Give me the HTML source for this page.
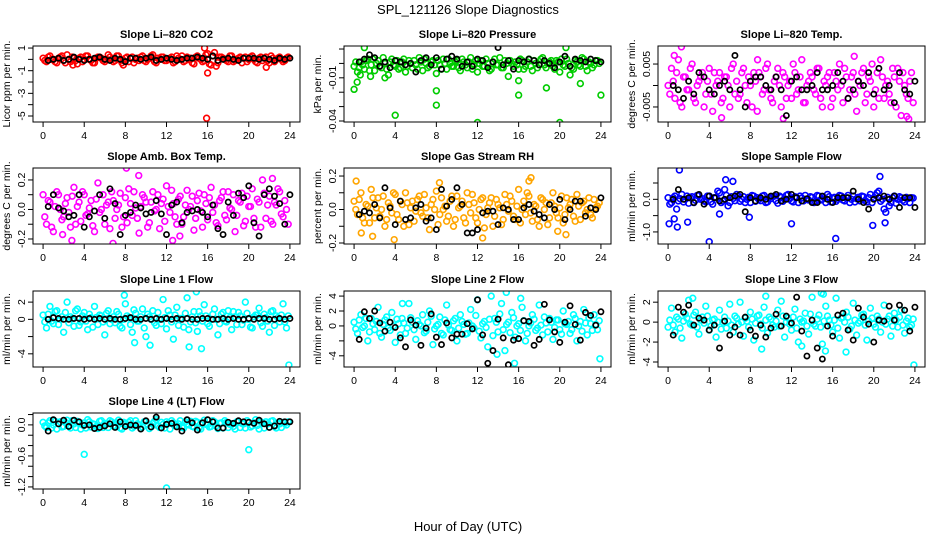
<!DOCTYPE html>
<html><head><meta charset="utf-8"><style>
body{margin:0;background:#fff;}
svg{display:block;font-family:"Liberation Sans",Arial,sans-serif;}
</style></head><body>
<svg id="chart" width="936" height="540" viewBox="0 0 936 540" xmlns="http://www.w3.org/2000/svg">
<rect x="0" y="0" width="936" height="540" fill="#fff"/>
<text x="468" y="14" text-anchor="middle" font-size="13">SPL_121126  Slope Diagnostics</text>
<text x="468" y="531" text-anchor="middle" font-size="13">Hour of Day (UTC)</text>
</svg>
<script>
// ---------- data arrays ----------
const xTicks=[0,4,8,12,16,20,24];
const co2Color=[0.1,-0.2,0.3,0,-0.3,0.2,-0.1,0.4,-0.2,0.1,-0.4,0.2,0,0.3,-0.1,-0.3,0.2,0.1,-0.2,0.4,0,-0.1,0.3,-0.3,0.1,-0.2,0.2,0,-0.1,0.3,-0.2,0.1,0.4,-0.3,0,0.2,-0.1,0.1,-0.3,0.3,0,-0.2,0.2,0.1,-0.4,0.3,0,-0.1,0.5,-0.5,0.6,-0.3,0.2,0,-0.2,0.3,-0.1,0.1,-0.3,0.2,0,0.3,-0.2,0.1,-0.1,0.2,-0.3,0.1,0,0.2,-0.2,0.1];
const co2Color2=[-0.1,0.2,0,-0.2,0.1,0.3,-0.3,0,0.2,-0.1,0.1,-0.2,0.3,0,-0.3,0.1,0.2,-0.1,0,0.2,-0.2,0.3,0,-0.1,0.2,0.1,-0.3,0.1,0.2,-0.1,0,0.3,-0.2,0.1,0.2,-0.1,0,0.2,-0.2,0.1,0.3,-0.1,0,-0.3,0.2,0.1,-0.2,0.4,-0.4,0.3,-0.6,0.2,0.1,-0.1,0.3,-0.2,0,0.2,0.1,-0.2,0.2,0,-0.3,0.2,0.1,-0.1,0.3,-0.2,0.1,0,-0.1,0.2];
const co2OutHours=[15.7,16.0,15.9,21.7,2.9,7.8];
const co2OutVals=[1.0,-1.2,-5.2,-0.7,-0.5,-0.5];
const co2Black=[-0.1,0,0.1,-0.1,0,0.2,0,-0.1,0,0.1,0.2,0,-0.1,0.1,0,-0.2,0.1,0.1,0,0.1,0.2,-0.1,0,0.1,0,-0.1,0,0.1,0.1,0.2,0.1,0,0.3,-0.1,0,0.1,0,-0.1,0.1,0.1,0.1,0,0.1,0,-0.1,0.1,0,0.1];

const presColor=[-0.002,-0.006,0.001,-0.004,0.003,-0.001,-0.005,0.002,-0.003,0,-0.008,0.003,-0.002,-0.004,0.001,-0.006,0.002,-0.003,-0.001,0.004,-0.005,0,-0.002,0.002,-0.007,-0.001,0.003,-0.004,0,-0.002,0.002,-0.005,0.001,-0.003,0.004,-0.001,-0.006,0.002,-0.002,0,-0.004,0.003,-0.001,-0.003,0.002,-0.009,0,0.001,-0.004,0.002,-0.002,0.003,-0.005,0,-0.001,0.004,-0.003,0.001,-0.002,0.002,-0.006,-0.001,0.003,-0.008,-0.004,0.001,-0.002,0.003,-0.005,0,-0.001,0.002];
const presColor2=[0.001,-0.003,-0.001,0.002,-0.005,0.003,0,-0.002,0.004,-0.004,0.001,-0.001,0.002,-0.003,0.003,-0.002,0,0.002,-0.004,0.001,0.003,-0.003,0.001,-0.001,0.002,-0.004,0,0.003,-0.002,0.001,-0.003,0.003,-0.001,0.001,-0.004,0.002,0,-0.002,0.003,-0.005,0.001,-0.001,0.004,-0.003,0,0.002,-0.002,-0.001,0.003,-0.004,0.001,-0.002,0.002,-0.003,0.003,-0.001,0,0.002,-0.004,0.001,0.003,-0.002,0,-0.003,0.002,-0.001,0.004,-0.002,0.001,-0.003,0.002,0];
const presOutHours=[0,0.3,0.6,1,4,8,8,12,16,16,18.7,20,20.6,22,24,3,1.6];
const presOutVals=[-0.018,-0.013,-0.008,0.011,-0.036,-0.019,-0.029,-0.041,-0.012,-0.022,-0.017,-0.041,0.011,-0.014,-0.022,-0.01,-0.009];
const presBlack=[0.001,0.003,0.006,0.004,-0.002,0.001,-0.003,0.002,0.001,-0.001,0,-0.006,0.002,0.004,-0.001,0.004,-0.004,0.003,0.005,0.003,-0.002,0.001,-0.002,0.003,0.002,-0.003,0.001,0.011,-0.001,0.002,-0.004,0.002,0.001,0.003,0.002,-0.001,0.002,0,-0.003,0.001,0.005,-0.002,0.003,0.002,0.001,0.003,0.002,0.001];

const tempColor=[0,0.004,-0.003,0.006,-0.005,0.002,-0.001,0.005,-0.004,0.001,0.003,-0.002,0.004,-0.006,0,0.003,-0.003,0.002,-0.005,0.005,0.001,-0.002,0.004,-0.004,0,0.003,-0.006,0.002,-0.001,0.005,-0.003,0.001,0.004,-0.005,0.002,0,-0.003,0.003,-0.001,0.006,-0.004,0.001,0.002,-0.002,0.004,-0.005,0,0.003,-0.003,0.001,0.005,-0.004,0.002,-0.001,0.003,-0.006,0,0.004,-0.002,0.001,-0.005,0.003,0.006,-0.003,0.001,-0.004,0.002,0.004,-0.007,0,-0.003,0.003];
const tempColor2=[-0.002,0.001,0.003,-0.004,0.002,-0.001,0.004,-0.003,0,0.002,-0.005,0.001,-0.002,0.003,0.001,-0.004,0.002,0,0.004,-0.002,-0.003,0.003,0,0.002,-0.005,0.001,0.003,-0.002,0.004,-0.001,-0.004,0.002,0,0.003,-0.003,0.001,0.005,-0.002,0.002,-0.004,0,0.003,-0.001,0.004,-0.003,0.001,0.002,-0.005,0.003,-0.001,0,0.004,-0.003,0.002,-0.002,0.001,0.003,-0.004,0.002,0.005,-0.001,-0.003,0.002,0,-0.002,0.004,-0.005,0.001,0.003,-0.002,0.001,-0.004];
const tempOutHours=[1.3,0.6,5.2,11.2,23.2,23.4,8.7,18.1];
const tempOutVals=[0.009,0.007,-0.0075,-0.0077,-0.0072,-0.0078,0.006,0.0068];
const tempBlack=[0,-0.001,-0.003,0.001,-0.002,0.003,0.002,-0.001,-0.002,0,0.001,-0.001,0.007,-0.001,-0.005,0.001,0.002,0.002,0,-0.001,0.002,-0.001,-0.007,0.001,0.002,-0.001,-0.001,0,0.003,-0.001,-0.001,0,0.003,0.001,-0.003,-0.001,0.001,0,0.003,-0.002,0.004,-0.001,0,-0.004,0.003,-0.001,-0.002,0.001];

const ambColor=[0.1,-0.1,0.05,-0.15,0.12,0,-0.05,0.08,-0.12,0.15,0.02,-0.08,0.1,-0.03,0.06,-0.15,0.18,0,-0.1,0.05,0.12,-0.06,0.03,-0.12,0.08,0.14,-0.04,0.01,-0.16,0.1,0.05,-0.09,0.12,0,-0.13,0.07,0.16,-0.02,0.04,-0.1,0.09,-0.05,0.13,0.02,-0.14,0.06,-0.01,0.1,-0.07,0.15,0.03,-0.11,0.08,-0.04,0.12,0,-0.15,0.06,0.11,-0.08,0.02,0.14,-0.12,0.05,0.2,-0.06,0.09,-0.1,0.03,0.12,-0.05,0];
const ambColor2=[-0.05,0.06,-0.12,0.02,0.1,-0.07,0.04,-0.02,0.09,-0.1,0.05,0.12,-0.04,0.01,-0.11,0.07,-0.02,0.1,0.03,-0.13,0.06,0,0.11,-0.05,-0.09,0.04,0.12,-0.06,0.02,0.08,-0.12,0.05,-0.01,0.1,0.04,-0.08,0.02,0.13,-0.05,0.07,-0.1,0.03,0,0.09,-0.06,0.11,-0.12,0.04,0.08,-0.02,-0.09,0.06,0.12,-0.07,0.01,0.1,-0.04,0.05,-0.11,0.09,0.02,-0.06,0.07,-0.12,0.11,0.03,-0.08,0.05,0.14,-0.03,0.06,-0.1];
const ambOutHours=[2.8,6.8,8.1,9.3,1.9,12.6,22.3,13.3];
const ambOutVals=[-0.21,-0.23,0.28,0.23,-0.17,-0.21,0.21,-0.18];
const ambBlack=[0.02,0.1,0.01,-0.01,-0.05,-0.04,0.1,-0.12,-0.05,-0.01,0.1,-0.06,0.14,0.04,-0.17,-0.04,-0.02,0.03,0.01,-0.03,-0.02,0.06,-0.03,-0.17,0.03,0.05,-0.09,-0.02,-0.01,0,-0.02,-0.05,0.03,-0.13,-0.17,0.05,-0.04,0.11,0.08,0.16,-0.09,-0.18,0.1,0.14,0.09,0.04,-0.1,0.1];

const rhColor=[0.05,-0.03,0.1,-0.08,0.02,0.12,-0.05,0.07,0,-0.1,0.04,-0.02,0.09,-0.06,0.03,0.1,-0.09,0.05,-0.01,0.08,-0.04,0.01,-0.12,0.06,0.11,-0.03,0,-0.07,0.05,-0.1,0.08,0.02,-0.05,0.1,-0.02,0.04,-0.08,0.06,-0.11,0.01,0.07,-0.04,0.03,-0.09,0.09,-0.01,0.05,-0.06,0.12,0,-0.03,0.08,-0.07,0.02,-0.1,0.06,0.04,-0.05,0.1,-0.02,0.01,-0.08,0.07,0.03,-0.04,0.09,-0.06,0.05,0,-0.03,0.06,0.02];
const rhColor2=[0,0.06,-0.05,0.03,-0.08,0.07,0.01,-0.04,0.08,-0.06,0.02,0.1,-0.03,0.05,-0.1,0.04,0.01,-0.07,0.06,-0.02,0.09,-0.05,0.03,0,-0.09,0.07,0.02,-0.04,0.08,-0.06,0.01,0.05,-0.08,0.03,0.09,-0.05,0,0.07,-0.03,0.04,-0.1,0.06,0.01,-0.06,0.03,0.08,-0.04,0.02,-0.08,0.05,0.1,-0.02,0.03,-0.06,0.07,0,-0.09,0.04,0.02,-0.05,0.08,-0.03,0.01,0.06,-0.07,0.02,0.04,-0.02,0.07,-0.05,0.01,0.04];
const rhOutHours=[0.2,0.7,1.8,3.9,8.3,12.5,17.2,19.8,20.6,17.0];
const rhOutVals=[0.17,-0.14,-0.16,-0.18,0.16,-0.17,0.19,-0.13,-0.15,0.17];
const rhBlack=[-0.03,-0.01,-0.02,0.03,-0.05,0.13,0.01,-0.09,0.05,-0.06,-0.05,0.01,0.03,-0.07,-0.05,-0.12,0.12,0.02,0.06,0.13,0.03,-0.14,-0.14,-0.12,-0.02,-0.01,-0.01,-0.09,0.01,0,-0.06,-0.06,0.01,0.03,-0.01,-0.03,-0.05,0.03,0,0.06,-0.06,0,0.05,0.05,-0.04,0.01,0,0.07];

const sampleColor=[0.05,-0.1,0.1,-0.05,0.15,0,-0.12,0.08,-0.03,0.12,0.02,-0.08,0.1,-0.15,0.05,0.2,-0.05,0.12,-0.1,0.03,0.15,-0.06,0.08,0,-0.1,0.1,0.05,-0.04,0.12,-0.08,0.02,0.1,-0.12,0.06,0,0.15,-0.05,0.08,-0.1,0.04,0.12,-0.02,0.06,-0.08,0.1,0,-0.1,0.08,0.03,-0.06,0.12,-0.02,0.05,-0.1,0.1,0.02,-0.05,0.08,-0.08,0.15,0.04,0.2,-0.06,-0.3,0.06,-0.1,0.1,0,0.05,-0.08,0.03,0.05];
const sampleColor2=[-0.15,0.05,-0.3,0.02,-0.08,0.1,0.05,-0.1,0.12,0,-0.05,0.1,-0.08,0.05,0.25,-0.1,0.3,-0.2,0.08,-0.04,0.1,0,-0.1,0.06,0.12,-0.06,0,0.1,-0.1,0.05,0.08,-0.04,0.1,-0.06,0.12,0.02,-0.08,0.05,0.1,-0.05,0,0.08,-0.1,0.12,-0.02,0.05,0.15,-0.08,0.06,0,0.1,-0.05,0.12,0,-0.08,0.06,0.1,-0.04,0.05,-0.1,0.12,0.25,0,-0.4,-0.2,0.05,-0.12,0.08,-0.03,0.06,-0.1,0.04];
const sampleOutHours=[1.1,0.1,0.9,1.9,4.0,5.6,6.3,12,16.3,20.6,19.9,21.1,0.6,5.0,7.9];
const sampleOutVals=[0.9,-0.75,-0.85,-0.7,-1.3,0.6,0.55,-0.75,-1.2,0.7,-0.8,-0.72,-0.6,-0.45,-0.55];
const sampleBlack=[0,0.3,0,0.05,-0.1,0.15,-0.15,0.1,0.05,-0.05,0,0.05,0.1,0.15,-0.38,0.05,-0.05,0.05,0,0.1,0.15,-0.05,0,0.15,0.05,-0.05,0.02,-0.1,-0.1,0.1,0,-0.1,0.05,0.05,0.05,0.25,0,-0.1,-0.3,0,0.05,0.1,0,0.1,-0.25,0.05,0.05,-0.25];

const line1Color=[0.5,-1,1.5,-0.5,1,0,-1.5,2,0.3,-0.8,1.2,-0.3,0.8,-1.2,0.2,1.5,-0.6,0.4,-1.8,1,0,-0.4,0.6,-1,1.8,0.2,-1.5,0.7,-0.2,1.2,-2,0.3,1,-0.7,0,2.3,-1.1,0.5,-2.3,1.4,0.1,-0.9,2.5,-0.3,0.9,-1.4,0.4,1.7,-0.5,0,1.2,-1.8,0.6,-0.2,1,-1.2,0.3,0.8,-0.6,2,0,-1,0.5,1.3,-0.8,0.2,-1.5,1,0.4,-0.3,1.8,-1];
const line1Color2=[-0.3,0.6,-0.2,0.9,-0.6,0.3,0.8,-0.4,0.1,1,-0.7,0.4,-0.2,0.6,-0.9,0.2,0.5,-0.3,0.7,-0.5,0.3,0.9,-0.8,0,0.4,-0.6,1.1,-0.2,0.3,-1,0.6,0,-0.4,0.8,-0.5,0.2,1,-0.3,0.5,-0.7,0.1,0.7,-1.2,0.3,-0.4,0.9,-0.2,0.4,-0.8,0.6,0,-0.5,0.8,-0.3,0.2,0.9,-0.6,0.4,-0.1,0.7,-0.9,0.3,0.5,-0.4,0.6,-0.2,0.9,-0.7,0.2,0.5,-0.3,0.4];
const line1OutHours=[10.4,14.2,15.4,23.9,8.9,14.9,7.9];
const line1OutVals=[-3,-3.2,-3.4,-5.3,-2.7,3.2,2.8];
const line1Black=[0,0.2,0.1,0,0,0.1,0.1,0,0.1,0,0.1,0,0.1,0,0,0.1,0.2,0,0,0.1,0,0.1,0,0.1,0,0.1,0,0.1,0,0,0.1,0.1,0,0,0.1,0,0.1,0,0,0.1,0,0.1,0.1,0,0,0.1,0,0.1];

const line2Color=[0.5,-1,1.5,0,-2,1,-0.5,2.5,-1.5,0.8,-0.3,1.8,-2.2,0.3,1,-1,3,0.5,-1.8,0.2,1.5,-0.7,2,-2.5,0,1.2,-1.2,2.8,-0.5,0.7,-2,1.5,0.2,-1,2.2,-0.3,3.5,-1.6,0.6,-2.8,4,1,-0.8,3,-3.3,0.5,1.8,-1.5,0.3,2.5,-2,0,1.5,-0.6,2.8,-1.2,0.4,1,-1.8,0.8,-0.5,2,0.2,-1,1.5,-2,0.6,2.2,-1.2,0.3,1.5,-0.5];
const line2Color2=[-0.4,0.8,-0.2,1,-0.8,0.3,0.6,-1,0.2,1.2,-0.6,0,0.9,-1.2,0.4,-0.3,1.1,-0.5,0.7,0,-0.9,0.5,1.3,-0.4,0.2,-1,0.8,0.1,-0.6,1,-0.3,0.6,-1.1,0.4,0,1.4,-0.7,0.3,-0.2,0.9,-1.3,0.5,1.6,-0.5,0.2,-0.9,1.1,0,-0.6,0.7,-1,0.4,0.9,-0.3,0.1,1.2,-0.8,0.5,-0.2,0.8,-1.1,0.3,0.6,-0.5,1,0,-0.7,0.4,1.1,-0.6,0.2,0.7];
const line2OutHours=[15.6,23.9,13.9,14.8,4.7,16.2];
const line2OutVals=[-5,-4.4,-3.8,4.5,3,3.7];
const line2Black=[-1.8,1.9,1,2,0.4,-0.7,0.5,-0.2,-1.6,-2.8,0.8,0.1,-2.6,-0.3,1.6,-1.5,-2.5,0.4,-1.6,-1.1,-1.1,0.3,-0.4,3.5,-1.2,-5,-3.3,0.9,-1.6,-5.2,-1.9,-1.7,0.7,0.6,-2.6,-1.8,2.9,0.8,-0.8,-2.2,0.5,2.7,0.2,-1.9,1.8,1.4,0.1,1.9];

const line3Color=[-0.5,1.4,-1,0.3,-1.6,0.8,2.2,-0.3,1,-1.2,0.5,1.6,-0.8,0.2,-1.5,1.2,0,-0.6,1.8,-1,0.4,2,-1.4,0.1,1,-1.8,0.6,-0.2,1.5,-1.1,0.3,-0.5,1.2,2.1,-1.5,0.4,-0.8,1.3,-2,0,0.9,-1.2,2.5,-0.4,0.7,-2.2,1.6,0.2,-1,2.4,-1.6,0.5,1,-0.7,1.9,-1.3,0.1,0.8,-1.8,1.4,-0.2,0.6,-1,1.7,0.3,-1.4,0.9,-0.5,1.2,-1.1,0.4,-0.3];
const line3Color2=[0.2,-0.3,0.5,-0.6,0.1,0.4,-0.2,0.7,-0.5,0.2,-0.1,0.6,-0.4,0.3,0,-0.7,0.5,0.1,-0.3,0.6,-0.2,0,0.4,-0.5,0.3,-0.1,0.7,-0.6,0.2,0.5,-0.3,0.1,-0.4,0.6,0,-0.2,0.5,-0.6,0.3,0.1,-0.4,0.8,-0.2,0.3,-0.5,0.1,0.6,-0.3,0.2,-0.6,0.4,0,0.5,-0.4,0.2,-0.1,0.7,-0.3,0.1,0.4,-0.5,0.3,0,-0.2,0.6,-0.4,0.2,0.5,-0.3,0.1,-0.5,0.3];
const line3OutHours=[2.4,9.5,13,15.1,15.3,17.3,23.9,14.9,9.1];
const line3OutVals=[2.4,2.6,-2.4,2.8,-2.9,-3,-4.3,2.9,-2.7];
const line3Black=[-1.3,1.5,1,1.7,-0.3,0.4,0.2,-0.8,-0.3,-2.6,0.1,-1.3,-0.5,-1.3,0.5,-0.8,-1.4,-0.3,-1.5,-0.6,0.8,-0.4,0.6,-0.1,2.5,-0.9,-3.4,0.2,-2.6,-3.7,-0.4,-1.4,0.7,0.9,-0.8,-1.8,1.4,0.5,-0.2,-2,0.2,0.1,1.6,0.2,1.7,1.2,-0.9,1.5];

const line4Color=[0.05,-0.05,0.08,0,-0.08,0.06,-0.03,0.09,-0.06,0.02,0.07,-0.08,0.04,0.1,-0.04,0.01,-0.07,0.08,0.03,-0.05,0.06,-0.02,0.09,-0.08,0.02,0.05,-0.06,0.08,0,-0.04,0.07,-0.07,0.03,0.1,-0.05,0.01,0.06,-0.08,0.04,-0.02,0.08,-0.06,0.02,0.07,-0.04,0.05,-0.08,0.09,0,-0.03,0.06,-0.07,0.04,0.08,-0.05,0.02,-0.08,0.07,0.03,-0.06,0.05,-0.02,0.1,-0.08,0.04,0.06,-0.04,0.08,-0.06,0.02,0.05,0];
const line4Color2=[-0.02,0.04,-0.06,0.07,0.02,-0.04,0.05,-0.01,0.08,-0.05,0.03,0,-0.06,0.06,0.02,-0.03,0.07,-0.05,0.01,0.08,-0.02,0.04,-0.06,0.05,0,0.08,-0.03,0.02,-0.07,0.06,0.01,-0.04,0.07,-0.02,0.05,-0.06,0.03,0.08,-0.01,0.02,-0.05,0.06,0,-0.03,0.07,-0.06,0.04,0.01,-0.04,0.08,-0.02,0.03,-0.06,0.05,0.01,-0.03,0.06,-0.05,0.02,0.08,-0.04,0.04,-0.01,0.06,-0.06,0.02,0.07,-0.03,0.04,-0.05,0.03,0.06];
const line4OutHours=[4,12,20];
const line4OutVals=[-0.57,-1.22,-0.48];
const line4Black=[-0.12,0.1,0.02,0.09,-0.03,0.09,0.06,-0.01,0,-0.07,-0.05,-0.02,0.02,-0.05,0.06,-0.03,0,-0.01,-0.08,0.08,-0.04,0.15,-0.06,0.01,0.03,-0.04,-0.12,0.1,0.04,-0.1,0.04,0.1,0.06,-0.06,-0.06,0.05,0.03,0.08,0.06,0.05,0.03,0.09,0.02,-0.05,-0.02,0.07,0.06,0.06];

// ---------- layout ----------
const NS="http://www.w3.org/2000/svg";
const svg=document.getElementById('chart');
const colLeft=[33,344,658], boxW=267, rowTop=[46,168,291,413], boxH=76;
const xDom=[-0.98,24.98];
const panels=[
 {key:'co2',title:'Slope Li\u2013820 CO2',ylab:'Licor ppm per min.',c:0,r:0,ylim:[-5.53,1.18],ticks:[1,0,-1,-2,-3,-4,-5],labels:['1','-1','-3','-5'],color:'#ff0000',cv:co2Color,cv2:co2Color2,oh:co2OutHours,ov:co2OutVals,bv:co2Black},
 {key:'pressure',title:'Slope Li\u2013820 Pressure',ylab:'kPa per min.',c:1,r:0,ylim:[-0.0407,0.0121],ticks:[0.01,0,-0.01,-0.02,-0.03,-0.04],labels:['-0.01','-0.04'],color:'#00cc00',cv:presColor,cv2:presColor2,oh:presOutHours,ov:presOutVals,bv:presBlack},
 {key:'temp',title:'Slope Li\u2013820 Temp.',ylab:'degrees C per min.',c:2,r:0,ylim:[-0.0085,0.0092],ticks:[0.005,0,-0.005],labels:['0.005','-0.005'],color:'#ff00ff',cv:tempColor,cv2:tempColor2,oh:tempOutHours,ov:tempOutVals,bv:tempBlack},
 {key:'amb-temp',title:'Slope Amb. Box Temp.',ylab:'degrees C per min.',c:0,r:1,ylim:[-0.234,0.281],ticks:[0.2,0.1,0,-0.1,-0.2],labels:['0.2','0.0','-0.2'],color:'#ff00ff',cv:ambColor,cv2:ambColor2,oh:ambOutHours,ov:ambOutVals,bv:ambBlack},
 {key:'rh',title:'Slope Gas Stream RH',ylab:'percent per min.',c:1,r:1,ylim:[-0.206,0.248],ticks:[0.2,0.1,0,-0.1,-0.2],labels:['0.2','0.0','-0.2'],color:'#ffa500',cv:rhColor,cv2:rhColor2,oh:rhOutHours,ov:rhOutVals,bv:rhBlack},
 {key:'sample-flow',title:'Slope Sample Flow',ylab:'ml/min per min.',c:2,r:1,ylim:[-1.37,0.96],ticks:[0.5,0,-0.5,-1],labels:['0.0','-1.0'],color:'#0000ff',cv:sampleColor,cv2:sampleColor2,oh:sampleOutHours,ov:sampleOutVals,bv:sampleBlack},
 {key:'line1',title:'Slope Line 1 Flow',ylab:'ml/min per min.',c:0,r:2,ylim:[-5.53,3.29],ticks:[2,0,-2,-4],labels:['2','0','-4'],color:'#00ffff',cv:line1Color,cv2:line1Color2,oh:line1OutHours,ov:line1OutVals,bv:line1Black},
 {key:'line2',title:'Slope Line 2 Flow',ylab:'ml/min per min.',c:1,r:2,ylim:[-5.5,4.68],ticks:[4,2,0,-2,-4],labels:['4','2','0','-4'],color:'#00ffff',cv:line2Color,cv2:line2Color2,oh:line2OutHours,ov:line2OutVals,bv:line2Black},
 {key:'line3',title:'Slope Line 3 Flow',ylab:'ml/min per min.',c:2,r:2,ylim:[-4.5,3.12],ticks:[2,0,-2,-4],labels:['2','0','-2','-4'],color:'#00ffff',cv:line3Color,cv2:line3Color2,oh:line3OutHours,ov:line3OutVals,bv:line3Black},
 {key:'line4',title:'Slope Line 4 (LT) Flow',ylab:'ml/min per min.',c:0,r:3,ylim:[-1.24,0.23],ticks:[0.2,0,-0.2,-0.4,-0.6,-0.8,-1,-1.2],labels:['0.0','-0.6','-1.2'],color:'#00ffff',cv:line4Color,cv2:line4Color2,oh:line4OutHours,ov:line4OutVals,bv:line4Black}
];
function mk(tag,attrs,parent){const e=document.createElementNS(NS,tag);for(const k in attrs)e.setAttribute(k,attrs[k]);(parent||svg).appendChild(e);return e;}
panels.forEach(p=>{
  const L=colLeft[p.c],T=rowTop[p.r],R=L+boxW,B=T+boxH;
  const xs=h=>L+(h-xDom[0])/(xDom[1]-xDom[0])*boxW;
  const ys=v=>B-(v-p.ylim[0])/(p.ylim[1]-p.ylim[0])*boxH;
  const g=mk('g',{});
  
  
  const t=mk('text',{x:(L+R)/2,y:T-8,'text-anchor':'middle','font-size':'11','font-weight':'bold'},g);
  t.textContent=p.title;
  
  
  const yl=mk('text',{x:0,y:0,'text-anchor':'middle','font-size':'10.5',transform:`translate(${L-23},${(T+B)/2}) rotate(-90)`},g);
  yl.textContent=p.ylab;
  
  
  const cid='clip-'+p.key;
  const cp=mk('clipPath',{id:cid},g);mk('rect',{x:L,y:T,width:boxW,height:boxH},cp);
  const pts=mk('g',{'clip-path':`url(#${cid})`},g);
  p.cv.forEach((v,i)=>{
    const h=i*24/p.cv.length;
    const c=mk('circle',{cx:xs(h),cy:ys(v),r:2.9,fill:'none',stroke:p.color,'stroke-width':1.6},pts);
    
    
  });
  p.cv2.forEach((v,i)=>{
    const h=(i+0.5)*24/p.cv2.length;
    const c=mk('circle',{cx:xs(h),cy:ys(v),r:2.9,fill:'none',stroke:p.color,'stroke-width':1.6},pts);
    
    
  });
  p.oh.forEach((h,i)=>{
    const c=mk('circle',{cx:xs(h),cy:ys(p.ov[i]),r:2.9,fill:'none',stroke:p.color,'stroke-width':1.6},pts);
    
    
  });
  p.bv.forEach((v,i)=>{
    const h=0.5+i*23.5/(p.bv.length-1);
    const c=mk('circle',{cx:xs(h),cy:ys(v),r:2.6,fill:'none',stroke:'#000','stroke-width':1.7},pts);
    
    
  });
  const box=mk('rect',{x:L,y:T,width:boxW,height:boxH,fill:'none',stroke:'#000','stroke-width':1},g);
  
  
  const xa=mk('g',{},g);
  
  
  mk('line',{x1:xs(xTicks[0]),x2:xs(xTicks[xTicks.length-1]),y1:B,y2:B,stroke:'#000'},xa);
  xTicks.forEach(tv=>{
    mk('line',{x1:xs(tv),x2:xs(tv),y1:B,y2:B+5,stroke:'#000'},xa);
    const tl=mk('text',{x:xs(tv),y:B+17,'text-anchor':'middle','font-size':'10.5'},xa);
    tl.textContent=tv;
  });
  const ya=mk('g',{},g);
  
  
  const tmax=Math.max(...p.ticks),tmin=Math.min(...p.ticks);
  mk('line',{x1:L,x2:L,y1:ys(tmax),y2:ys(tmin),stroke:'#000'},ya);
  p.ticks.forEach(tv=>{mk('line',{x1:L-5,x2:L,y1:ys(tv),y2:ys(tv),stroke:'#000'},ya);});
  p.labels.forEach(lb=>{
    const tl=mk('text',{x:0,y:0,'text-anchor':'middle','font-size':'10.5',transform:`translate(${L-8},${ys(parseFloat(lb))}) rotate(-90)`},ya);
    tl.textContent=lb;
  });
});
</script>
</body></html>
